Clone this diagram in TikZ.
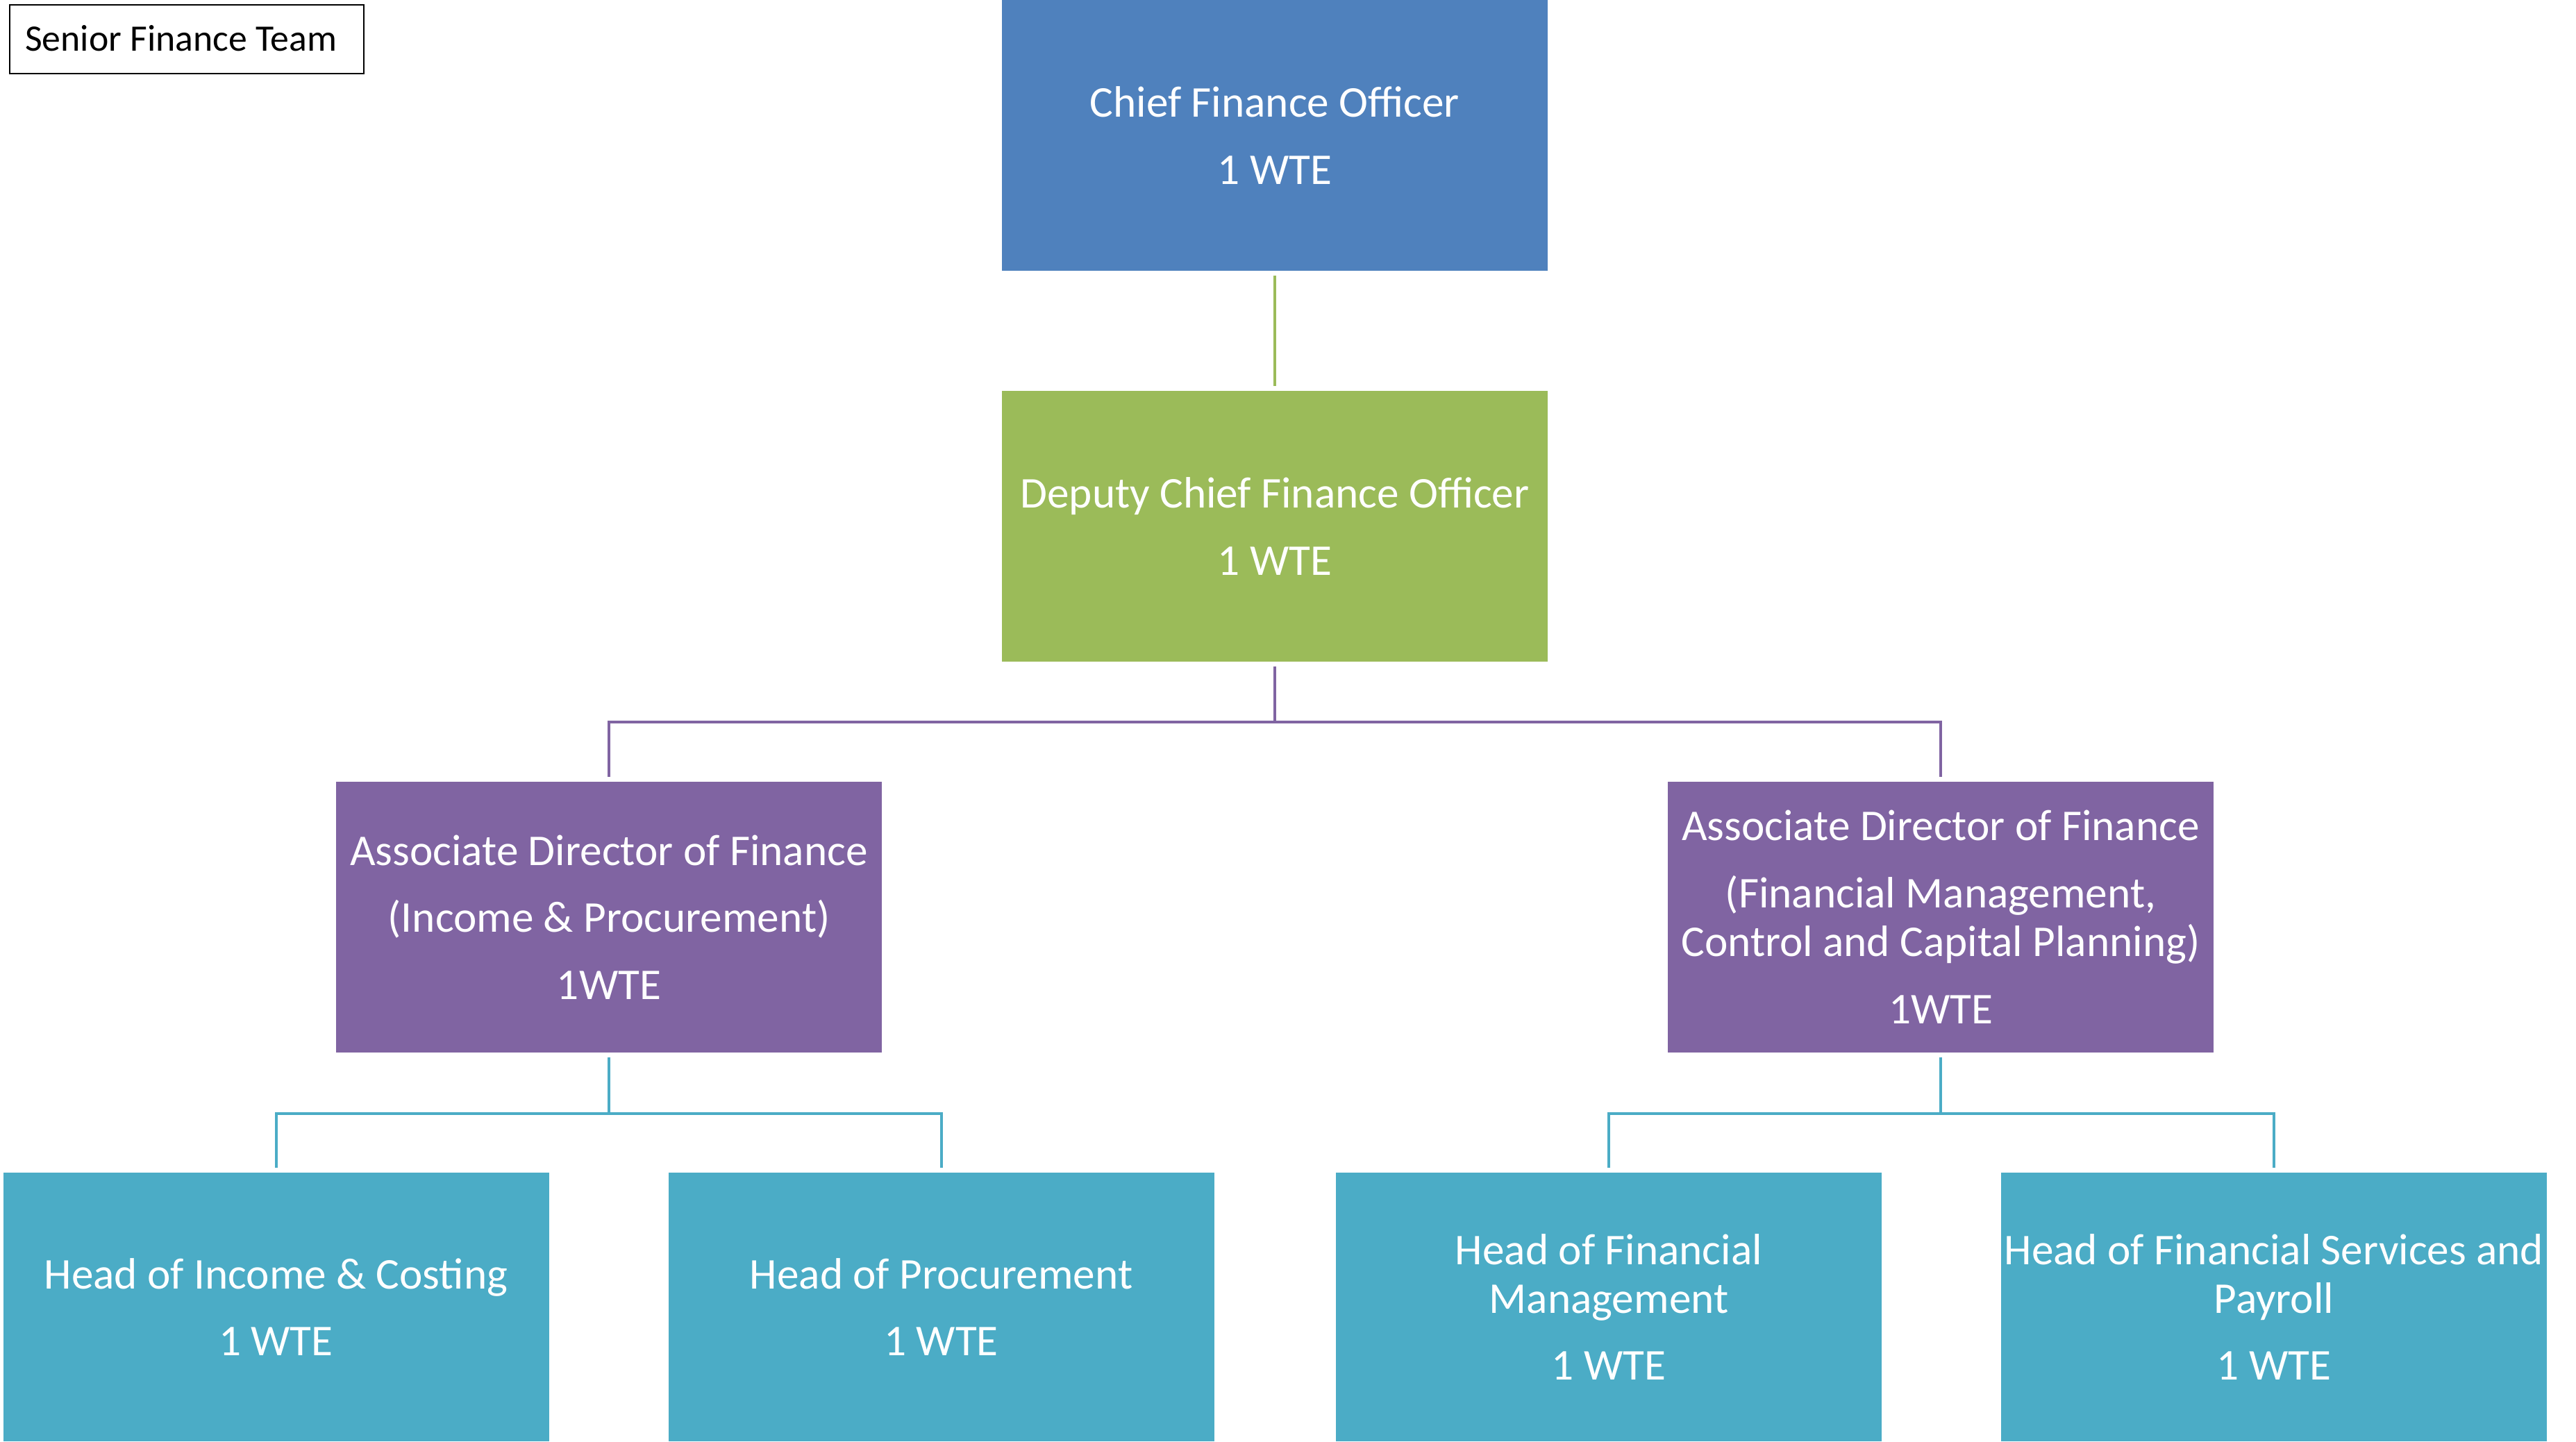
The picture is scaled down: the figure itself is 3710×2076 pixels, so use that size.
\documentclass[tikz,border=0pt]{standalone}
\usepackage{fontspec}
\setmainfont{Carlito}
\definecolor{cfoblue}{HTML}{4F81BD}
\definecolor{dgreen}{HTML}{9BBB59}
\definecolor{adpurple}{HTML}{8064A2}
\definecolor{hteal}{HTML}{4BACC6}
\begin{document}
\begin{tikzpicture}[x=0.1mm,y=-0.1mm,
  box/.style={rectangle, inner sep=0pt, minimum width=78.6mm, minimum height=39mm,
    text=white, align=center, font=\fontsize{18}{20}\selectfont},
  bbox/.style={box, minimum height=38.7mm},
  conn/.style={line width=0.4mm, shorten <=0.6mm, shorten >=0.6mm},
  titlebox/.style={rectangle, draw=black, line width=0.2mm, inner sep=0pt,
    minimum width=51mm, minimum height=9.9mm, font=\fontsize{15.3}{17}\selectfont}]
\useasboundingbox (0,0) rectangle (3710,2076);
\node[titlebox] (sft) at (269,56.5) {\raisebox{1pt}{Senior Finance Team}\hspace*{4.7pt}};
\node[box, fill=cfoblue] (cfo) at (1836,195) {Chief Finance Officer\\[7.5pt]1 WTE};
\node[box, fill=dgreen] (dcfo) at (1836,758) {Deputy Chief Finance Officer\\[7.5pt]1 WTE};
\node[box, fill=adpurple] (adfl) at (877,1321) {Associate Director of Finance\\[7.5pt](Income \& Procurement)\\[7.5pt]1WTE};
\node[box, fill=adpurple] (adfr) at (2795,1321) {Associate Director of Finance\\[7.5pt](Financial Management,\\Control and Capital Planning)\\[7.5pt]1WTE};
\node[bbox, fill=hteal] (h1) at (397.5,1882.5) {Head of Income \& Costing\\[7.5pt]1 WTE};
\node[bbox, fill=hteal] (h2) at (1355.5,1882.5) {Head of Procurement\\[7.5pt]1 WTE};
\node[bbox, fill=hteal] (h3) at (2317,1882.5) {Head of Financial\\Management\\[7.5pt]1 WTE};
\node[bbox, fill=hteal] (h4) at (3275,1882.5) {Head of Financial Services and\\Payroll\\[7.5pt]1 WTE};
\draw[conn, dgreen] (cfo.south) -- (dcfo.north);
\draw[conn, adpurple] (dcfo.south) -- ++(0,86) -| (adfl.north);
\draw[conn, adpurple] (dcfo.south) -- ++(0,86) -| (adfr.north);
\draw[conn, hteal] (adfl.south) -- ++(0,87) -| (h1.north);
\draw[conn, hteal] (adfl.south) -- ++(0,87) -| (h2.north);
\draw[conn, hteal] (adfr.south) -- ++(0,87) -| (h3.north);
\draw[conn, hteal] (adfr.south) -- ++(0,87) -| (h4.north);
\end{tikzpicture}
\end{document}
